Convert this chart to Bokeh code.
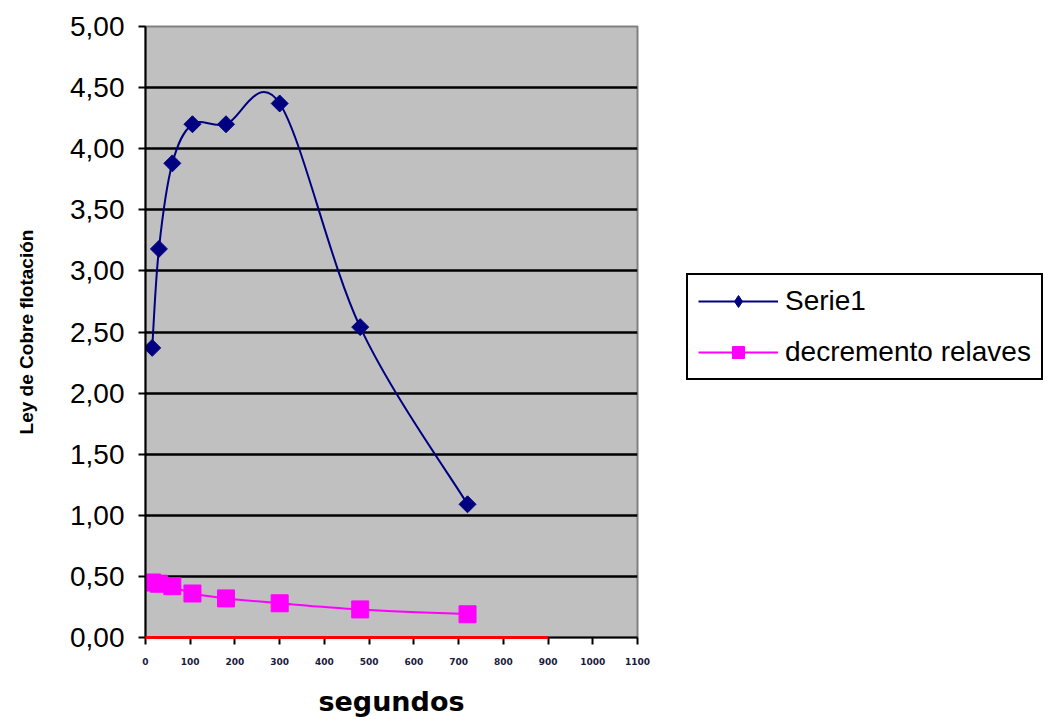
import math
from bokeh.plotting import figure
from bokeh.layouts import row
from bokeh.models import (Range1d, FixedTicker, Legend, LegendItem, ColumnDataSource)
from bokeh.embed import file_html
from bokeh.resources import INLINE

# ---- data ----
serie1_x = [15, 30, 60, 105, 180, 300, 480, 720]
serie1_y = [2.37, 3.18, 3.88, 4.20, 4.20, 4.37, 2.54, 1.09]
decr_x = [15, 30, 60, 105, 180, 300, 480, 720]
decr_y = [0.45, 0.44, 0.42, 0.36, 0.32, 0.28, 0.23, 0.19]
base_x = [0, 900]
base_y = [0, 0]
y_ticks = [0.0, 0.5, 1.0, 1.5, 2.0, 2.5, 3.0, 3.5, 4.0, 4.5, 5.0]
y_tick_labels = ["0,00", "0,50", "1,00", "1,50", "2,00", "2,50", "3,00", "3,50", "4,00", "4,50", "5,00"]
x_ticks = [0, 100, 200, 300, 400, 500, 600, 700, 800, 900, 1000, 1100]
x_tick_labels = ["0", "100", "200", "300", "400", "500", "600", "700", "800", "900", "1000", "1100"]
series_names = ["Serie1", "decremento relaves"]

NAVY = "#000080"
MAGENTA = "#FF00FF"


def smooth_segments(xs, ys):
    """Bezier control points (Catmull-Rom style) for a smoothed line through the points."""
    n = len(xs)
    out = dict(x0=[], y0=[], x1=[], y1=[], cx0=[], cy0=[], cx1=[], cy1=[])
    for i in range(n - 1):
        pm = i - 1 if i > 0 else i
        pp = i + 2 if i + 2 < n else i + 1
        out["x0"].append(xs[i]); out["y0"].append(ys[i])
        out["x1"].append(xs[i + 1]); out["y1"].append(ys[i + 1])
        out["cx0"].append(xs[i] + (xs[i + 1] - xs[pm]) / 6.0)
        out["cy0"].append(ys[i] + (ys[i + 1] - ys[pm]) / 6.0)
        out["cx1"].append(xs[i + 1] - (xs[pp] - xs[i]) / 6.0)
        out["cy1"].append(ys[i + 1] - (ys[pp] - ys[i]) / 6.0)
    return ColumnDataSource(out)


p = figure(width=686, height=727, output_backend="svg", toolbar_location=None,
           x_range=Range1d(0, 1100), y_range=Range1d(0, 5),
           min_border_left=145, min_border_right=49, min_border_top=26, min_border_bottom=90)
p.border_fill_color = "white"
p.background_fill_color = "#C0C0C0"
p.outline_line_color = "#808080"
p.outline_line_width = 2

# grid
p.xgrid.visible = False
p.ygrid.ticker = FixedTicker(ticks=y_ticks)
p.ygrid.grid_line_color = "black"
p.ygrid.grid_line_width = 2.5

# y axis
p.yaxis.ticker = FixedTicker(ticks=y_ticks)
p.yaxis.major_label_overrides = {t: l for t, l in zip(y_ticks, y_tick_labels)}
p.yaxis.major_label_text_font = "Liberation Sans"
p.yaxis.major_label_text_font_size = "28px"
p.yaxis.major_label_text_color = "black"
p.yaxis.major_label_standoff = 14
p.yaxis.major_tick_out = 7
p.yaxis.major_tick_in = 0
p.yaxis.minor_tick_line_color = None
p.yaxis.axis_line_width = 2
p.yaxis.major_tick_line_width = 2
p.yaxis.axis_label = "Ley de Cobre flotación"
p.yaxis.axis_label_text_font = "Liberation Sans"
p.yaxis.axis_label_text_font_style = "bold"
p.yaxis.axis_label_text_font_size = "19px"
p.yaxis.axis_label_text_color = "black"
p.yaxis.axis_label_standoff = 30

# x axis
p.xaxis.ticker = FixedTicker(ticks=x_ticks)
p.xaxis.major_label_overrides = {t: l for t, l in zip(x_ticks, x_tick_labels)}
p.xaxis.major_label_text_font = "DejaVu Sans"
p.xaxis.major_label_text_font_style = "bold"
p.xaxis.major_label_text_font_size = "9px"
p.xaxis.major_label_text_color = "#1a1a40"
p.xaxis.major_label_standoff = 13
p.xaxis.major_tick_out = 7
p.xaxis.major_tick_in = 0
p.xaxis.minor_tick_line_color = None
p.xaxis.axis_line_width = 2
p.xaxis.major_tick_line_width = 2
p.xaxis.axis_label = "segundos"
p.xaxis.axis_label_text_font = "DejaVu Sans"
p.xaxis.axis_label_text_font_style = "bold"
p.xaxis.axis_label_text_font_size = "27px"
p.xaxis.axis_label_text_color = "black"
p.xaxis.axis_label_standoff = 18

# red baseline (drawn above the axis line)
p.line(base_x, base_y, line_color="red", line_width=3, level="overlay")

# series (smoothed)
p.bezier(x0="x0", y0="y0", x1="x1", y1="y1", cx0="cx0", cy0="cy0", cx1="cx1", cy1="cy1",
         source=smooth_segments(decr_x, decr_y), line_color=MAGENTA, line_width=2)
p.scatter(decr_x, decr_y, marker="square", size=17, fill_color=MAGENTA, line_color=MAGENTA)

p.bezier(x0="x0", y0="y0", x1="x1", y1="y1", cx0="cx0", cy0="cy0", cx1="cx1", cy1="cy1",
         source=smooth_segments(serie1_x, serie1_y), line_color=NAVY, line_width=2)
p.scatter(serie1_x, serie1_y, marker="square", angle=math.pi / 4, size=12,
          fill_color=NAVY, line_color=NAVY)

# ---- legend panel (separate figure to the right) ----
lp = figure(width=368, height=727, output_backend="svg", toolbar_location=None,
            x_range=Range1d(0, 1), y_range=Range1d(0, 1),
            x_axis_location=None, y_axis_location=None,
            min_border_left=0, min_border_right=0, min_border_top=0, min_border_bottom=0)
lp.xgrid.visible = False
lp.ygrid.visible = False
lp.outline_line_color = None
lp.background_fill_color = "white"
lp.border_fill_color = "white"

nan = float("nan")
l1 = lp.line([nan, nan], [nan, nan], line_color=NAVY, line_width=2)
m1 = lp.scatter([nan], [nan], marker="diamond", size=22, fill_color=NAVY, line_color=NAVY)
l2 = lp.line([nan, nan], [nan, nan], line_color=MAGENTA, line_width=2)
m2 = lp.scatter([nan], [nan], marker="square", size=17, fill_color=MAGENTA, line_color=MAGENTA)

legend = Legend(items=[LegendItem(label=series_names[0], renderers=[l1, m1]),
                       LegendItem(label=series_names[1], renderers=[l2, m2])],
                location=(0, 257))
legend.border_line_color = "black"
legend.border_line_alpha = 1
legend.border_line_width = 2.5
legend.background_fill_color = "white"
legend.background_fill_alpha = 1
legend.label_text_font = "Liberation Sans"
legend.label_text_font_size = "28px"
legend.label_text_color = "black"
legend.glyph_width = 80
legend.glyph_height = 30
legend.label_standoff = 7
legend.spacing = 19
legend.padding = 10
legend.margin = 0
legend.label_height = 30
lp.add_layout(legend, "center")

layout = row(p, lp, spacing=0)
open("out.html", "w").write(file_html(layout, INLINE))
